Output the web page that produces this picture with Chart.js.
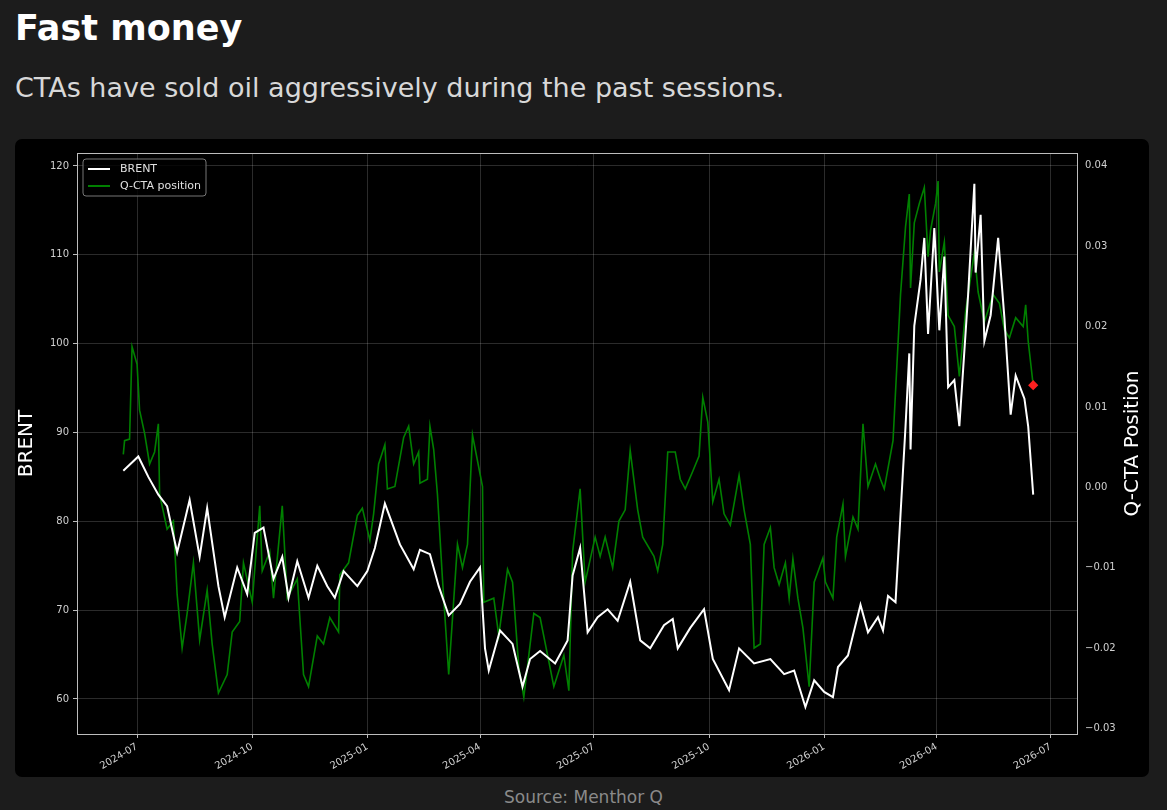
<!DOCTYPE html>
<html>
<head>
<meta charset="utf-8">
<script src="https://cdn.jsdelivr.net/npm/chart.js@4"></script>
<style>
  body { margin:0; background:#1c1c1c; width:1167px; height:810px; overflow:hidden; font-family:"DejaVu Sans", sans-serif; }
  h1 { position:absolute; left:15px; top:8px; margin:0; color:#fff; font-size:35px; font-weight:700; }
  .sub { position:absolute; left:15px; top:72px; color:#d8d8d8; font-size:27px; }
  .card { position:absolute; left:15px; top:139px; width:1134px; height:638px; background:#000; border-radius:7px; }
  .src { position:absolute; left:0; width:1167px; top:787px; text-align:center; color:#8a8a8a; font-size:17px; }
</style>
</head>
<body>
<h1>Fast money</h1>
<div class="sub">CTAs have sold oil aggressively during the past sessions.</div>
<div class="card"><canvas id="c" width="1134" height="638"></canvas></div>
<div class="src">Source: Menthor Q</div>
<script>
'use strict';

// days since 2024-07-01
const BRENT_DAYS = [-11,1,9,17,24,32,42,50,56,65,70,80,88,94,101,109,116,121,128,137,144,152,158,165,176,184,190,198,210,221,226,234,241,249,258,266,274,278,281,290,300,308,314,322,334,344,348,354,360,368,376,384,394,402,410,421,428,432,442,453,460,473,481,493,506,517,525,534,541,549,556,560,568,578,584,592,596,600,606,610,614,617,618,621,626,629,632,637,641,645,648,653,657,664,669,670,674,677,682,688,693,698,702,709,712,716];
const BRENT = [85.7,87.3,85,83,81.7,76.5,82.4,76,81.5,72.7,69.2,74.8,71.8,78.7,79.3,73.5,76,71.4,75.5,71.4,75,72.7,71.4,74.4,72.7,74.4,77,82,77.4,74.6,76.8,76.3,72.7,69.4,70.7,73.2,74.8,65.7,63.2,67.7,66.2,61.4,64.5,65.4,64,66.6,73.9,77,67.5,69.2,70.1,68.8,73.2,66.6,65.7,68.3,69,65.7,68,70.1,64.5,61,65.7,64,64.5,62.8,63.2,59.1,62.1,60.8,60.2,63.6,64.9,70.6,67.5,69.2,67.7,71.6,70.9,80.8,90.7,98.9,88.1,102,107.2,111.9,101.1,113,101.5,109.8,95.1,95.9,90.7,105.5,118,108,114.5,100.3,103.2,111.9,102.9,92,96.4,93.8,90.7,83];

const CTA_DAYS = [-11,-10,-6,-4,0,2,6,10,14,17,18,24,29,32,36,40,45,50,56,60,65,72,76,82,85,92,98,100,106,109,116,120,128,133,137,144,149,154,161,162,169,176,180,186,189,193,198,200,206,213,217,221,225,226,232,234,237,240,244,249,256,260,264,268,276,277,285,289,296,300,305,309,317,322,333,341,345,348,354,358,366,370,374,380,385,390,394,400,404,413,416,420,424,430,434,438,444,449,452,456,460,465,469,474,481,485,490,493,498,501,506,509,513,518,521,524,528,532,537,541,548,550,556,559,564,566,572,576,580,584,590,594,597,604,610,614,617,618,621,625,629,632,634,638,640,641,645,648,653,657,662,669,672,677,684,689,693,697,702,708,710,712,716];
const CTA = [0.0041,0.0058,0.006,0.0175,0.0153,0.0096,0.0067,0.0029,0.0044,0.0079,-0.0009,-0.0052,-0.0042,-0.0133,-0.02,-0.0157,-0.0094,-0.019,-0.0128,-0.0195,-0.0256,-0.0233,-0.018,-0.0167,-0.0094,-0.0143,-0.0023,-0.0104,-0.008,-0.0138,-0.0023,-0.0138,-0.0114,-0.0233,-0.0248,-0.0185,-0.0195,-0.0162,-0.018,-0.0109,-0.0094,-0.0035,-0.0026,-0.0066,-0.0033,0.0029,0.0053,-0.0002,0.0001,0.0062,0.0076,0.0029,0.0044,0.0005,0.001,0.0076,0.0047,-0.0009,-0.0114,-0.0233,-0.0071,-0.01,-0.0071,0.0065,0.0001,-0.0143,-0.0138,-0.0185,-0.0102,-0.0118,-0.0224,-0.0261,-0.0157,-0.0162,-0.0248,-0.0209,-0.0253,-0.008,-0.0002,-0.0118,-0.0062,-0.0086,-0.0062,-0.01,-0.0042,-0.0028,0.0046,-0.0028,-0.0062,-0.0086,-0.0104,-0.0071,0.0044,0.0044,0.001,-0.0002,0.002,0.0039,0.0112,0.0081,-0.0018,0.001,-0.0033,-0.0047,0.0015,-0.0028,-0.0071,-0.02,-0.0195,-0.0071,-0.005,-0.01,-0.0121,-0.0094,-0.0138,-0.0089,-0.0138,-0.0175,-0.0248,-0.0118,-0.0088,-0.0118,-0.0138,-0.0062,-0.0021,-0.0086,-0.0037,-0.0052,0.0079,0.0001,0.0029,0.001,-0.0002,0.0058,0.024,0.0324,0.0365,0.0248,0.0329,0.0353,0.0373,0.0287,0.032,0.0353,0.0381,0.0268,0.0305,0.0214,0.02,0.0138,0.0219,0.0292,0.0243,0.0206,0.024,0.0229,0.0196,0.0186,0.0211,0.02,0.0227,0.0182,0.0127];

const X_TICK_DAYS   = [0,92,184,274,365,457,549,639,730];
const X_TICK_LABELS = ['2024-07','2024-10','2025-01','2025-04','2025-07','2025-10','2026-01','2026-04','2026-07'];

const TICK_COLOR = '#d0d0d0';
const GRID_COLOR = 'rgba(255,255,255,0.17)';

const frame = {
    id: 'frame',
    afterDatasetsDraw(chart) {
        const { ctx, chartArea: a } = chart;
        ctx.save();
        ctx.strokeStyle = '#bdbdbd';
        ctx.lineWidth = 1;
        ctx.strokeRect(a.left + 0.5, a.top + 0.5, a.width, a.height);
        // legend box
        const x = a.left + 6, y = a.top + 6;
        ctx.fillStyle = 'rgba(0,0,0,0.8)';
        ctx.strokeStyle = '#777';
        ctx.beginPath(); ctx.roundRect(x, y, 123, 37, 3); ctx.fill(); ctx.stroke();
        ctx.font = '11px "DejaVu Sans"';
        ctx.textBaseline = 'middle';
        chart.data.datasets.forEach((ds, i) => {
            const ly = y + 10 + i * 17;
            ctx.strokeStyle = ds.borderColor; ctx.lineWidth = 2;
            ctx.beginPath(); ctx.moveTo(x + 5, ly); ctx.lineTo(x + 27, ly); ctx.stroke();
            ctx.fillStyle = '#e0e0e0';
            ctx.fillText(ds.label, x + 37, ly);
        });
        // right axis title, reading bottom to top
        ctx.translate(a.right + 56, (a.top + a.bottom) / 2);
        ctx.rotate(-Math.PI / 2);
        ctx.font = '20px "DejaVu Sans"';
        ctx.fillStyle = '#ffffff';
        ctx.textAlign = 'center';
        ctx.fillText('Q-CTA Position', 0, 0);
        ctx.restore();
    }
};

new Chart(document.getElementById('c'), {
    type: 'line',
    data: {
        datasets: [{
            label: 'BRENT',
            data: BRENT_DAYS.map((d, i) => ({ x: d, y: BRENT[i] })),
            borderColor: '#ffffff',
            borderWidth: 2,
            pointRadius: 0,
            tension: 0,
            yAxisID: 'y'
        }, {
            label: 'Q-CTA position',
            data: CTA_DAYS.map((d, i) => ({ x: d, y: CTA[i] })),
            borderColor: '#008000',
            borderWidth: 1.6,
            pointRadius: ctx => ctx.dataIndex === CTA.length - 1 ? 4 : 0,
            pointStyle: 'rectRot',
            pointBackgroundColor: '#ff2020',
            pointBorderColor: '#ff2020',
            tension: 0,
            yAxisID: 'y1'
        }]
    },
    options: {
        responsive: false,
        animation: false,
        layout: { padding: { top: 14, left: 0, right: 0, bottom: 0 } },
        plugins: { legend: { display: false }, tooltip: { enabled: false } },
        scales: {
            x: {
                type: 'linear', min: -48, max: 751,
                afterBuildTicks: ax => { ax.ticks = X_TICK_DAYS.map(v => ({ value: v })); },
                afterFit: ax => { ax.height = 43; },
                ticks: { color: TICK_COLOR, font: { size: 10, family: 'DejaVu Sans' }, maxRotation: 30, minRotation: 30,
                         callback: v => X_TICK_LABELS[X_TICK_DAYS.indexOf(v)] },
                grid: { color: GRID_COLOR, tickColor: '#bdbdbd', tickLength: 4 },
                border: { color: '#bdbdbd' }
            },
            y: {
                position: 'left', min: 56.06, max: 121.46,
                afterBuildTicks: ax => { ax.ticks = [60,70,80,90,100,110,120].map(v => ({ value: v })); },
                afterFit: ax => { ax.width = 62; },
                title: { display: true, text: 'BRENT', color: '#ffffff', font: { size: 20, family: 'DejaVu Sans' }, padding: { top: 0, bottom: 6 } },
                ticks: { color: TICK_COLOR, font: { size: 10, family: 'DejaVu Sans' }, padding: 4 },
                grid: { color: GRID_COLOR, tickColor: '#bdbdbd', tickLength: 4 },
                border: { color: '#bdbdbd' }
            },
            y1: {
                position: 'right', min: -0.0307, max: 0.0416,
                afterBuildTicks: ax => { ax.ticks = [-0.03,-0.02,-0.01,0,0.01,0.02,0.03,0.04].map(v => ({ value: v })); },
                afterFit: ax => { ax.width = 72; },
                ticks: { color: TICK_COLOR, font: { size: 10, family: 'DejaVu Sans' }, padding: 4,
                         callback: v => (v < 0 ? '\u2212' : '') + Math.abs(v).toFixed(2) },
                grid: { display: false, tickColor: '#bdbdbd', tickLength: 4 },
                border: { color: '#bdbdbd' }
            }
        }
    },
    plugins: [frame]
});
</script>
</body>
</html>
